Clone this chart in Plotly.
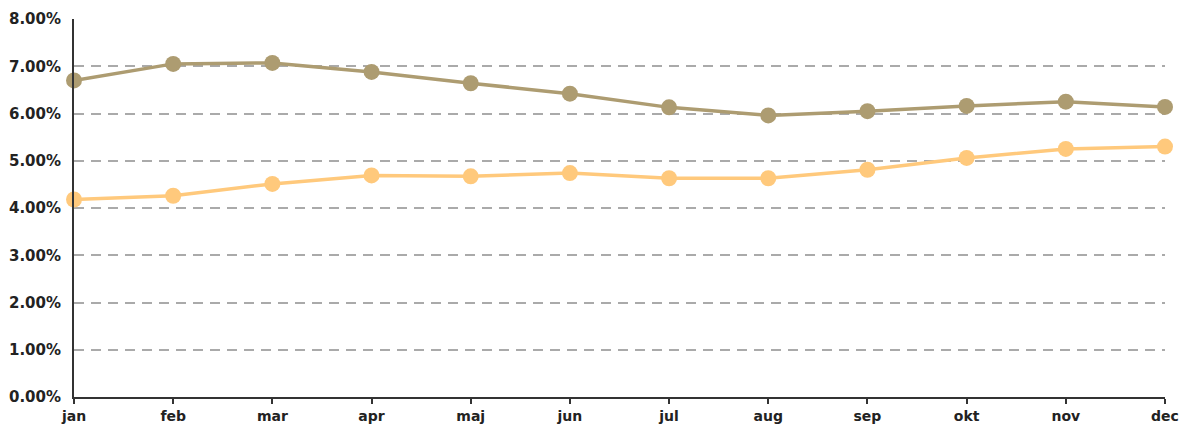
import plotly.graph_objects as go

months = ["jan", "feb", "mar", "apr", "maj", "jun", "jul", "aug", "sep", "okt", "nov", "dec"]
series_gold = [6.70, 7.05, 7.07, 6.88, 6.64, 6.42, 6.13, 5.96, 6.05, 6.16, 6.25, 6.14]
series_orange = [4.18, 4.26, 4.51, 4.69, 4.67, 4.74, 4.63, 4.63, 4.81, 5.06, 5.25, 5.30]
y_ticks = [0, 1, 2, 3, 4, 5, 6, 7, 8]
y_tick_labels = [f"{v:.2f}%" for v in y_ticks]

fig = go.Figure()
fig.add_trace(go.Scatter(
    x=months, y=series_gold, mode="lines+markers",
    line=dict(color="#ad9c71", width=3.5),
    marker=dict(color="#ad9c71", size=16),
    showlegend=False, cliponaxis=False,
))
fig.add_trace(go.Scatter(
    x=months, y=series_orange, mode="lines+markers",
    line=dict(color="#ffc97c", width=3.5),
    marker=dict(color="#ffc97c", size=16),
    showlegend=False, cliponaxis=False,
))

fig.update_layout(
    width=1175, height=419,
    margin=dict(l=66, r=18, t=11, b=30),
    paper_bgcolor="white", plot_bgcolor="white",
    font=dict(family="DejaVu Sans", size=15, color="#222222"),
)
fig.update_xaxes(
    type="category", range=[0, 11], automargin=False,
    showgrid=False, zeroline=False,
    showline=True, linecolor="#333333", linewidth=2,
    ticks="outside", ticklen=5, tickwidth=2, tickcolor="#333333",
    ticklabelstandoff=0,
    tickfont=dict(family="DejaVu Sans", size=14, color="#222222", weight="bold"),
)
fig.update_yaxes(
    range=[0, 8], tickvals=y_ticks, ticktext=y_tick_labels, automargin=False,
    showgrid=True, gridcolor="#aaaaaa", gridwidth=2, griddash="10px,7px",
    zeroline=False, showline=True, linecolor="#333333", linewidth=2,
    ticks="", ticklabelstandoff=8,
    tickfont=dict(family="DejaVu Sans", size=15, color="#222222", weight="bold"),
)

fig.write_html(
    "out.html",
    post_script="document.body.style.margin='0';"
                "var d=document.getElementById('{plot_id}');"
                "d.style.marginLeft='8px';d.style.marginTop='8px';"
                "document.querySelectorAll('.main-svg').forEach(function(s){s.style.overflow='visible';});",
)
